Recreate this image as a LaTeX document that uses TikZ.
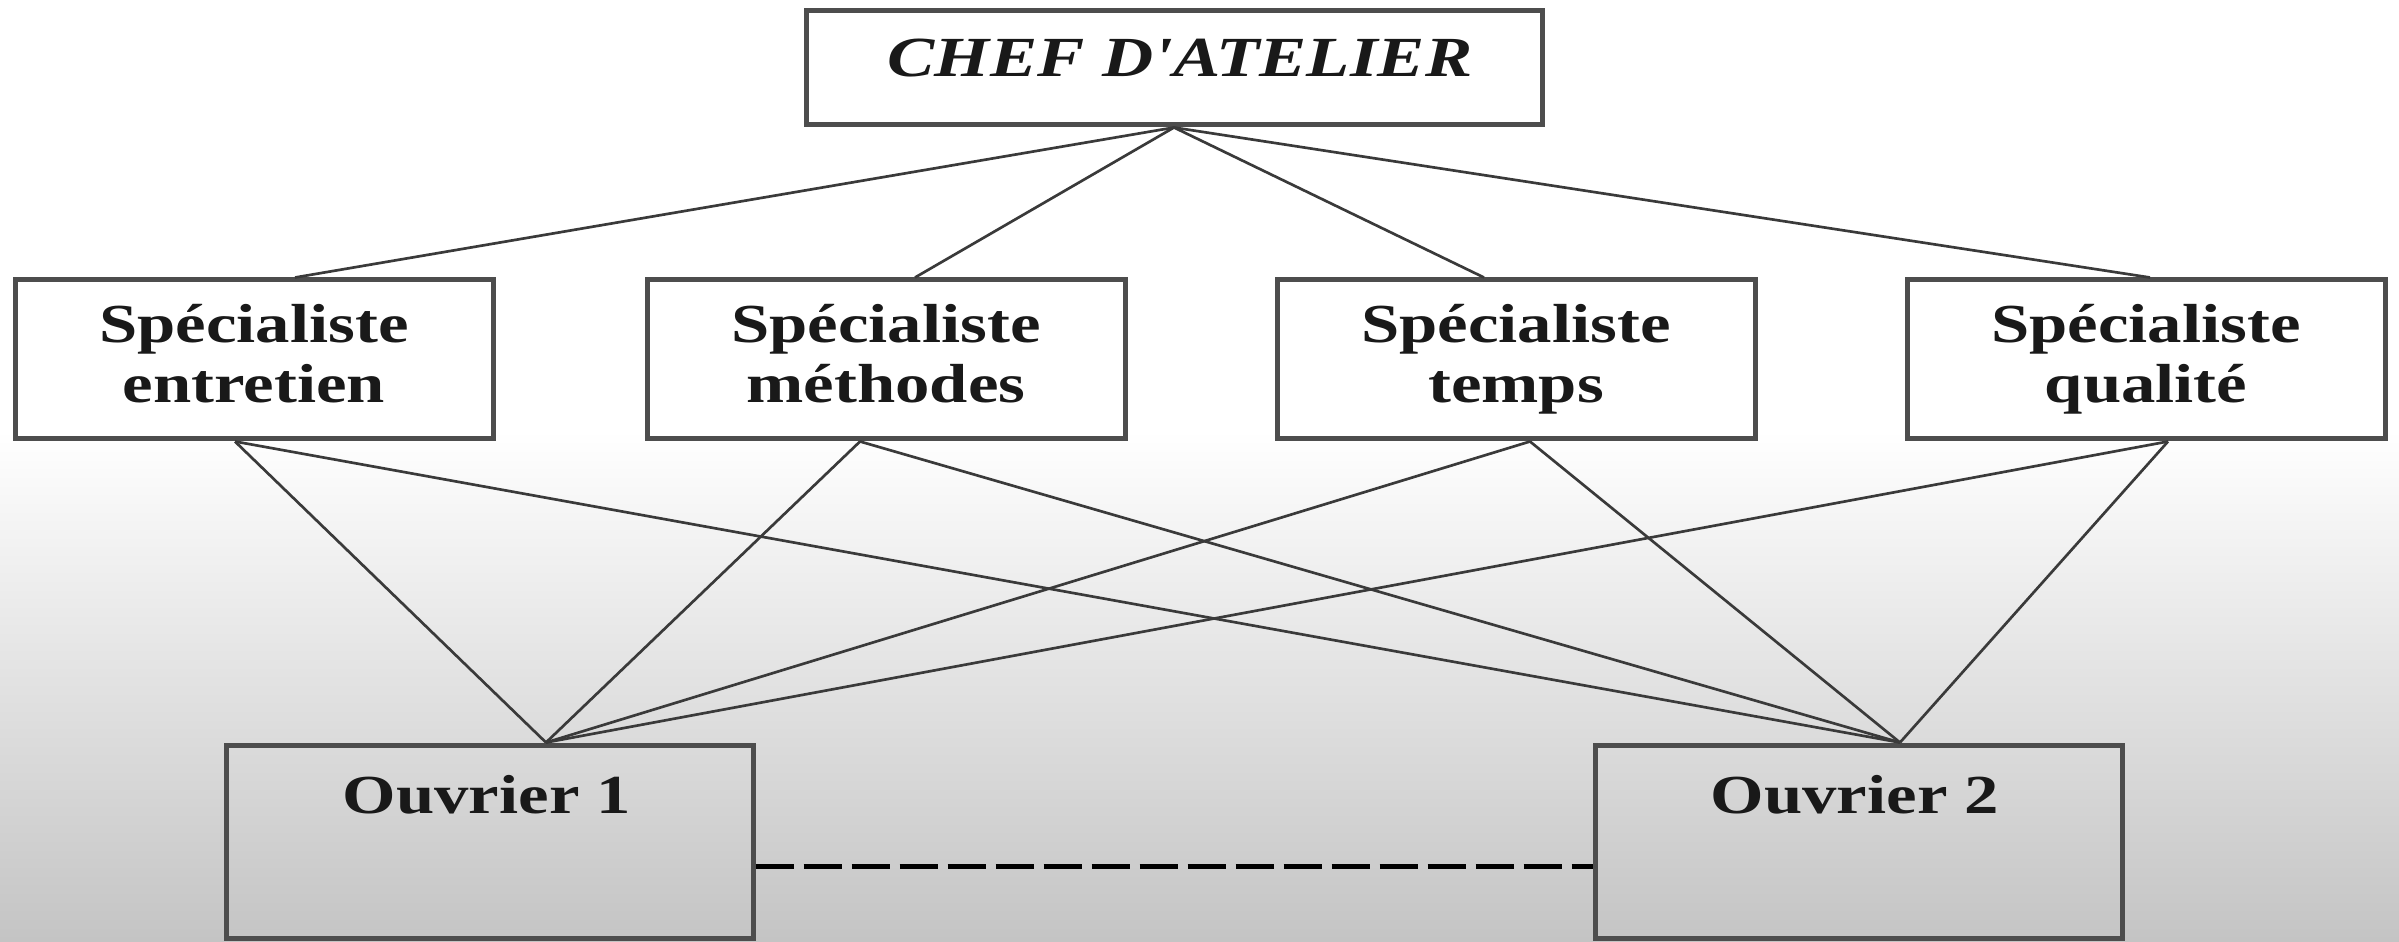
\documentclass[tikz,border=0pt]{standalone}
\usepackage{fontspec}
\newfontfamily\wide{Liberation Serif}[FakeStretch=1.25]
\usetikzlibrary{calc}
\definecolor{boxgray}{HTML}{4D4D4D}
\definecolor{linegray}{HTML}{3A3A3A}
\definecolor{bggray}{HTML}{C4C4C4}
\begin{document}
\begin{tikzpicture}[x=0.3pt,y=0.3pt,
  box/.style={draw=boxgray, line width=1.5pt, inner sep=0pt},
  specbox/.style={box, fill=white, minimum width=143.4pt, minimum height=47.7pt},
  workbox/.style={box, minimum width=158.1pt, minimum height=57.9pt},
  lbl/.style={font=\wide\bfseries\fontsize{16.5}{18}\selectfont, inner sep=0pt, anchor=base, text=black!90},
  link/.style={draw=linegray, line width=0.8pt},
  dashlink/.style={draw=black, line width=1.5pt, dash pattern=on 11.4pt off 3pt}
  ]
\useasboundingbox (0,0) rectangle (2399,941);
\fill[white] (0,0) rectangle (2399,941);
\shade[top color=white, bottom color=bggray] (0,0) rectangle (2399,511);

% boxes
\node[box, fill=white, minimum width=220.8pt, minimum height=34.2pt] (chef) at (1174,873) {};
\node[specbox] (se) at (254,581.5) {};
\node[specbox] (sm) at (886,581.5) {};
\node[specbox] (st) at (1516,581.5) {};
\node[specbox] (sq) at (2146,581.5) {};
\node[workbox] (o1) at (489.5,99.5) {};
\node[workbox] (o2) at (1858.5,99.5) {};

% texts
\node[lbl, font=\wide\bfseries\itshape\fontsize{17}{18}\selectfont] (chefT) at (1180,864) {CHEF D'ATELIER};
\node[lbl] (se1) at (254,598) {Spécialiste};
\node[lbl] (se2) at (254,538) {entretien};
\node[lbl] (sm1) at (886,598) {Spécialiste};
\node[lbl] (sm2) at (886,538) {méthodes};
\node[lbl] (st1) at (1516,598) {Spécialiste};
\node[lbl] (st2) at (1516,538) {temps};
\node[lbl] (sq1) at (2146,598) {Spécialiste};
\node[lbl] (sq2) at (2146,538) {qualité};
\node[lbl] (o1T) at (487,128) {Ouvrier 1};
\node[lbl] (o2T) at (1855,128) {Ouvrier 2};

% attachment points
\coordinate (seT) at ($(se.north)+(41,0)$);
\coordinate (smT) at ($(sm.north)+(29,0)$);
\coordinate (stT) at ($(st.north)+(-32,0)$);
\coordinate (sqT) at ($(sq.north)+(4,0)$);
\coordinate (seB) at ($(se.south)+(-19,0)$);
\coordinate (smB) at ($(sm.south)+(-26,0)$);
\coordinate (stB) at ($(st.south)+(14,0)$);
\coordinate (sqB) at ($(sq.south)+(22,0)$);
\coordinate (o1Top) at ($(o1.north)+(56.5,0)$);
\coordinate (o2Top) at ($(o2.north)+(41.5,0)$);
\coordinate (o1R) at ($(o1.east)+(0,-24.5)$);
\coordinate (o2L) at ($(o2.west)+(0,-24.5)$);

% connectors
\foreach \s in {seT,smT,stT,sqT} \draw[link] (chef.south) -- (\s);
\foreach \s in {seB,smB,stB,sqB} {
  \draw[link] (\s) -- (o1Top);
  \draw[link] (\s) -- (o2Top);
}
\draw[dashlink] (o1R) -- (o2L);
\end{tikzpicture}
\end{document}
